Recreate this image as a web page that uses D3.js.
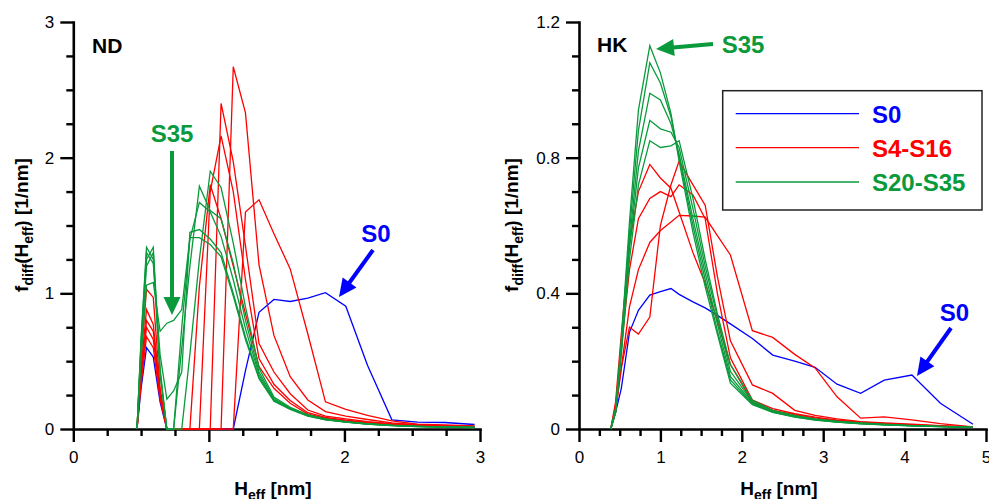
<!DOCTYPE html>
<html>
<head>
<meta charset="utf-8">
<script src="https://cdn.jsdelivr.net/npm/d3@7"></script>
<style>
  html, body { margin: 0; padding: 0; background: #ffffff; }
  svg { display: block; font-family: "Liberation Sans", Arial, Helvetica, sans-serif; }
</style>
</head>
<body>
<svg id="chart" width="989" height="499"></svg>
<script>
// ---------- ND panel: effective height grid [nm] and f_diff values [1/nm] ----------
const ndX   = [0.47, 0.50, 0.54, 0.59, 0.64, 0.69, 0.74, 0.80, 0.86, 0.93, 1.01, 1.09, 1.18, 1.27, 1.37, 1.48, 1.60, 1.73, 1.86, 2.01, 2.17, 2.35, 2.54, 2.74, 2.96];
const ndS0  = [0, 0.30, 0.60, 0.53, 0.20, 0, 0, 0, 0, 0, 0, 0, 0, 0.43, 0.86, 0.955, 0.94, 0.965, 1.005, 0.905, 0.47, 0.068, 0.05, 0.048, 0.033];
const ndS4  = [0, 0.33, 0.68, 0.60, 0.22, 0, 0, 0, 0, 0, 0, 0, 0, 1.60, 1.69, 1.44, 1.18, 0.70, 0.20, 0.145, 0.10, 0.06, 0.035, 0.03, 0.022];
const ndS8  = [0, 0.37, 0.75, 0.66, 0.25, 0, 0, 0, 0, 0, 0, 0, 2.67, 2.33, 1.21, 0.69, 0.385, 0.214, 0.128, 0.095, 0.07, 0.045, 0.03, 0.025, 0.02];
const ndS12 = [0, 0.44, 0.88, 0.77, 0.28, 0, 0, 0, 0, 0, 0, 2.40, 1.97, 1.35, 0.63, 0.42, 0.26, 0.14, 0.095, 0.075, 0.055, 0.04, 0.03, 0.022, 0.018];
const ndS14 = [0, 0.52, 1.03, 0.97, 0.30, 0, 0, 0, 0, 0, 1.75, 2.16, 1.75, 1.10, 0.52, 0.33, 0.21, 0.12, 0.085, 0.065, 0.05, 0.035, 0.025, 0.02, 0.016];
const ndS16 = [0, 0.40, 0.80, 0.72, 0.26, 0, 0, 0, 0, 1.05, 1.80, 1.55, 1.20, 0.85, 0.46, 0.30, 0.19, 0.11, 0.08, 0.06, 0.045, 0.033, 0.024, 0.019, 0.015];
const ndS20 = [0, 0.62, 1.25, 1.34, 0.45, 0, 0, 0, 0.55, 1.25, 1.90, 1.78, 1.37, 0.90, 0.45, 0.235, 0.16, 0.105, 0.074, 0.055, 0.04, 0.028, 0.02, 0.015, 0.012];
const ndS24 = [0, 0.67, 1.34, 1.25, 0.40, 0, 0, 0.60, 1.20, 1.79, 1.61, 1.55, 1.22, 0.80, 0.42, 0.225, 0.155, 0.10, 0.072, 0.053, 0.038, 0.027, 0.02, 0.015, 0.012];
const ndS28 = [0, 0.60, 1.20, 1.30, 0.42, 0, 0, 0.75, 1.40, 1.67, 1.60, 1.42, 1.10, 0.74, 0.40, 0.215, 0.15, 0.098, 0.07, 0.052, 0.037, 0.026, 0.019, 0.014, 0.011];
const ndS32 = [0, 0.65, 1.30, 1.22, 0.55, 0.22, 0.28, 0.42, 1.45, 1.47, 1.40, 1.30, 1.00, 0.68, 0.38, 0.21, 0.148, 0.096, 0.069, 0.05, 0.036, 0.025, 0.018, 0.014, 0.011];
const ndS35 = [0, 0.53, 1.06, 1.08, 0.72, 0.78, 0.80, 0.88, 1.41, 1.41, 1.36, 1.27, 0.98, 0.66, 0.37, 0.205, 0.145, 0.095, 0.068, 0.05, 0.036, 0.025, 0.018, 0.014, 0.011];

// ---------- HK panel ----------
const hkX   = [0.39, 0.45, 0.52, 0.62, 0.73, 0.87, 1.00, 1.13, 1.23, 1.40, 1.55, 1.70, 1.86, 2.13, 2.38, 2.65, 2.90, 3.17, 3.46, 3.75, 4.09, 4.44, 4.84];
const hkS0  = [0, 0.05, 0.12, 0.285, 0.35, 0.395, 0.405, 0.414, 0.397, 0.375, 0.357, 0.335, 0.31, 0.267, 0.218, 0.20, 0.182, 0.132, 0.105, 0.144, 0.159, 0.076, 0.014];
const hkS4  = [0, 0.05, 0.18, 0.36, 0.47, 0.55, 0.585, 0.61, 0.63, 0.628, 0.625, 0.57, 0.513, 0.29, 0.27, 0.22, 0.18, 0.095, 0.032, 0.036, 0.027, 0.016, 0.006];
const hkS8  = [0, 0.06, 0.18, 0.30, 0.28, 0.33, 0.60, 0.72, 0.79, 0.72, 0.66, 0.45, 0.26, 0.13, 0.105, 0.055, 0.04, 0.03, 0.022, 0.018, 0.014, 0.01, 0.006];
const hkS12 = [0, 0.07, 0.24, 0.47, 0.62, 0.68, 0.70, 0.685, 0.72, 0.69, 0.62, 0.40, 0.21, 0.085, 0.06, 0.045, 0.035, 0.026, 0.02, 0.016, 0.012, 0.009, 0.005];
const hkS16 = [0, 0.08, 0.28, 0.55, 0.70, 0.78, 0.74, 0.71, 0.64, 0.52, 0.43, 0.32, 0.19, 0.08, 0.055, 0.042, 0.033, 0.025, 0.019, 0.015, 0.011, 0.008, 0.005];
const hkS20 = [0, 0.05, 0.22, 0.50, 0.72, 0.85, 0.83, 0.835, 0.85, 0.68, 0.50, 0.34, 0.19, 0.085, 0.055, 0.04, 0.03, 0.023, 0.018, 0.014, 0.01, 0.008, 0.005];
const hkS24 = [0, 0.05, 0.23, 0.53, 0.77, 0.91, 0.885, 0.875, 0.83, 0.65, 0.48, 0.33, 0.17, 0.08, 0.053, 0.038, 0.029, 0.022, 0.017, 0.013, 0.01, 0.008, 0.005];
const hkS28 = [0, 0.05, 0.24, 0.55, 0.82, 0.99, 0.97, 0.90, 0.81, 0.62, 0.46, 0.31, 0.155, 0.077, 0.051, 0.037, 0.028, 0.021, 0.016, 0.013, 0.01, 0.007, 0.005];
const hkS32 = [0, 0.06, 0.25, 0.58, 0.88, 1.08, 1.02, 0.92, 0.80, 0.60, 0.44, 0.29, 0.145, 0.074, 0.05, 0.036, 0.027, 0.02, 0.016, 0.012, 0.009, 0.007, 0.005];
const hkS35 = [0, 0.06, 0.26, 0.61, 0.94, 1.13, 1.05, 0.93, 0.79, 0.58, 0.42, 0.28, 0.135, 0.072, 0.049, 0.035, 0.026, 0.02, 0.015, 0.012, 0.009, 0.007, 0.005];

// ---------- ticks ----------
const ndXTicks = [0, 1, 2, 3];
const ndYTicks = [0, 1, 2, 3];
const hkXTicks = [0, 1, 2, 3, 4, 5];
const hkYTicks = [0, 0.4, 0.8, 1.2];
const hkYLabels = ["0", "0.4", "0.8", "1.2"];

// ---------- legend ----------
const legendLabels = ["S0", "S4-S16", "S20-S35"];

const BLUE = "#0000ff", RED = "#ff0000", GREEN = "#0a9a3c";
const legendColors = [BLUE, RED, GREEN];

const svg = d3.select("#chart");
const Y0 = 429, Y1 = 22;

function drawPanel(cfg) {
  const g = svg.append("g");
  const x = d3.scaleLinear().domain(cfg.xDomain).range(cfg.xRange);
  const y = d3.scaleLinear().domain(cfg.yDomain).range([Y0, Y1]);

  // minor ticks
  const xMinor = d3.range(cfg.xDomain[0], cfg.xDomain[1] + 1e-9, 0.25).filter(v => !cfg.xTicks.includes(v));
  const yMinor = d3.range(cfg.yDomain[0], cfg.yDomain[1] + 1e-9, cfg.yMinorStep)
                   .filter(v => !cfg.yTicks.some(t => Math.abs(t - v) < 1e-6));
  g.append("g").attr("transform", `translate(0,${Y0})`)
    .call(d3.axisBottom(x).tickValues(xMinor).tickSize(7).tickSizeOuter(0).tickFormat(""))
    .call(s => s.select(".domain").remove());
  g.append("g").attr("transform", `translate(${cfg.xRange[0]},0)`)
    .call(d3.axisLeft(y).tickValues(yMinor).tickSize(7).tickSizeOuter(0).tickFormat(""))
    .call(s => s.select(".domain").remove());

  // major axes
  const ax = g.append("g").attr("transform", `translate(0,${Y0})`)
    .call(d3.axisBottom(x).tickValues(cfg.xTicks).tickSize(13).tickSizeOuter(0).tickPadding(9).tickFormat(d3.format("d")));
  const ay = g.append("g").attr("transform", `translate(${cfg.xRange[0]},0)`)
    .call(d3.axisLeft(y).tickValues(cfg.yTicks).tickSize(13).tickSizeOuter(0).tickPadding(6)
      .tickFormat((d, i) => cfg.yLabels[i]));

  g.selectAll(".tick line").attr("stroke", "#000").attr("stroke-width", 2.4);
  g.selectAll(".domain").attr("stroke", "#000").attr("stroke-width", 2.6).attr("stroke-linecap", "square");
  g.selectAll(".tick text").attr("font-size", 17).attr("fill", "#000")
    .attr("font-family", "'Liberation Sans', Arial, sans-serif");

  // curves
  const line = d3.line().x((d, i) => x(cfg.xs[i])).y(d => y(d));
  cfg.series.forEach(s => {
    g.append("path").datum(s.values)
      .attr("d", line)
      .attr("fill", "none")
      .attr("stroke", s.color)
      .attr("stroke-width", 1.3)
      .attr("stroke-linejoin", "miter");
  });

  // panel tag
  g.append("text").attr("x", cfg.tag.x).attr("y", cfg.tag.y)
    .attr("font-size", 21).attr("font-weight", "bold").text(cfg.tag.text);

  // axis titles
  const xt = g.append("text").attr("x", cfg.xTitleX).attr("y", 495)
    .attr("text-anchor", "middle").attr("font-size", 19).attr("font-weight", "bold");
  xt.append("tspan").text("H");
  xt.append("tspan").attr("dy", 5).attr("font-size", 14).text("eff");
  xt.append("tspan").attr("dy", -5).text(" [nm]");

  const yt = g.append("text").attr("transform", `translate(${cfg.yTitleX},225) rotate(-90)`)
    .attr("text-anchor", "middle").attr("font-size", 19).attr("font-weight", "bold");
  yt.append("tspan").text("f");
  yt.append("tspan").attr("dy", 5).attr("font-size", 14).text("diff");
  yt.append("tspan").attr("dy", -5).text("(H");
  yt.append("tspan").attr("dy", 5).attr("font-size", 14).text("eff");
  yt.append("tspan").attr("dy", -5).text(") [1/nm]");

  return g;
}

function arrow(g, x1, y1, x2, y2, color) {
  const L = Math.hypot(x2 - x1, y2 - y1);
  const ux = (x2 - x1) / L, uy = (y2 - y1) / L;
  const headLen = 18, headW = 8.5;
  const bx = x2 - ux * headLen, by = y2 - uy * headLen;
  g.append("line").attr("x1", x1).attr("y1", y1).attr("x2", bx + ux).attr("y2", by + uy)
    .attr("stroke", color).attr("stroke-width", 4);
  const px = -uy, py = ux;
  g.append("path")
    .attr("d", `M${x2},${y2}L${bx + px * headW},${by + py * headW}L${bx - px * headW},${by - py * headW}Z`)
    .attr("fill", color);
}

function label(g, x, y, text, color) {
  g.append("text").attr("x", x).attr("y", y).attr("text-anchor", "middle")
    .attr("font-size", 24).attr("font-weight", "bold").attr("fill", color).text(text);
}

// ---------- left panel: ND ----------
const left = drawPanel({
  xDomain: [0, 3], xRange: [73.3, 480], yDomain: [0, 3], yMinorStep: 0.25,
  xTicks: ndXTicks, yTicks: ndYTicks, yLabels: ndYTicks.map(String),
  xs: ndX,
  series: [
    { values: ndS0, color: BLUE },
    { values: ndS4, color: RED }, { values: ndS8, color: RED }, { values: ndS12, color: RED },
    { values: ndS14, color: RED }, { values: ndS16, color: RED },
    { values: ndS20, color: GREEN }, { values: ndS24, color: GREEN }, { values: ndS28, color: GREEN },
    { values: ndS32, color: GREEN }, { values: ndS35, color: GREEN }
  ],
  tag: { x: 92, y: 53, text: "ND" },
  xTitleX: 273, yTitleX: 28
});
label(left, 172, 142, "S35", GREEN);
arrow(left, 172, 151, 172, 315, GREEN);
label(left, 376, 242, "S0", BLUE);
arrow(left, 373, 250, 339, 297, BLUE);

// ---------- right panel: HK ----------
const right = drawPanel({
  xDomain: [0, 5], xRange: [579, 986], yDomain: [0, 1.2], yMinorStep: 0.1,
  xTicks: hkXTicks, yTicks: hkYTicks, yLabels: hkYLabels,
  xs: hkX,
  series: [
    { values: hkS0, color: BLUE },
    { values: hkS4, color: RED }, { values: hkS8, color: RED }, { values: hkS12, color: RED }, { values: hkS16, color: RED },
    { values: hkS20, color: GREEN }, { values: hkS24, color: GREEN }, { values: hkS28, color: GREEN },
    { values: hkS32, color: GREEN }, { values: hkS35, color: GREEN }
  ],
  tag: { x: 597, y: 52, text: "HK" },
  xTitleX: 779, yTitleX: 518
});
label(right, 743, 53, "S35", GREEN);
arrow(right, 713, 44, 656, 49, GREEN);
label(right, 954.5, 321, "S0", BLUE);
arrow(right, 951, 328, 917, 376, BLUE);

// legend
const lg = right.append("g");
lg.append("rect").attr("x", 722.7).attr("y", 90.7).attr("width", 259.3).attr("height", 119.3)
  .attr("fill", "#fff").attr("stroke", "#222").attr("stroke-width", 1.5);
const legendY = [113.7, 147.7, 182];
legendLabels.forEach((t, i) => {
  lg.append("line").attr("x1", 735.7).attr("x2", 859).attr("y1", legendY[i]).attr("y2", legendY[i])
    .attr("stroke", legendColors[i]).attr("stroke-width", 1.3);
  lg.append("text").attr("x", 872).attr("y", legendY[i] + 9)
    .attr("font-size", 24).attr("font-weight", "bold").attr("fill", legendColors[i]).text(t);
});
</script>
</body>
</html>
